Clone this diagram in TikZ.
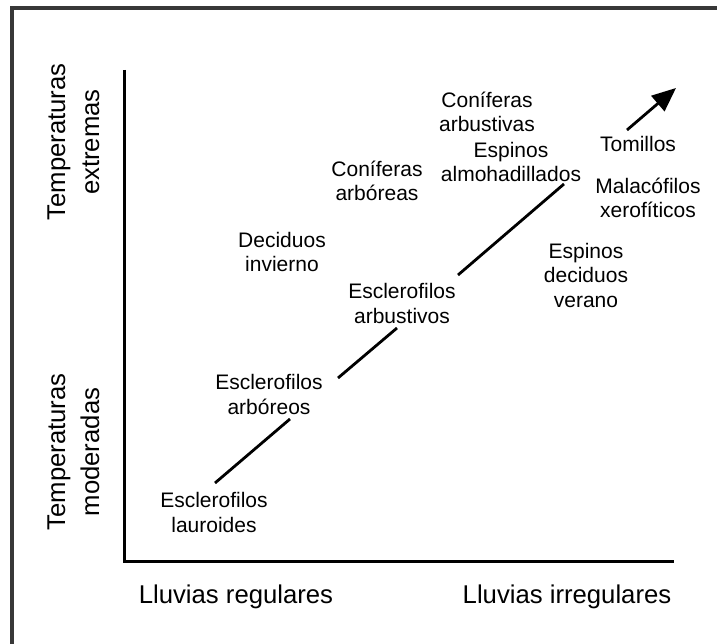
\documentclass[tikz,border=0pt]{standalone}
\usepackage{fontspec}
\setmainfont{Liberation Sans}
\usetikzlibrary{arrows.meta}
\begin{document}
\begin{tikzpicture}[x=1pt,y=-1pt,
  lbl/.style={font=\fontsize{21}{24.5}\selectfont, align=center, inner sep=0pt, anchor=base},
  axl/.style={font=\fontsize{25.7}{34}\selectfont, align=center, inner sep=0pt, anchor=base},
  ln/.style={line width=2.8pt},
  axis/.style={line width=3.5pt, line join=miter},
  frame/.style={line width=3.5pt, draw=black!78}
]
\useasboundingbox (0,0) rectangle (717,644);
\fill[white] (0,0) rectangle (717,644);
\draw[frame] (12,646) -- (12,8) -- (719,8);

% axes
\coordinate (ytop) at (124.5,70);
\coordinate (orig) at (124.5,561.5);
\coordinate (xend) at (674,561.5);
\draw[axis] (ytop) -- (orig) -- (xend);

% axis labels
\node[axl] (lr) at (236,603) {Lluvias regulares};
\node[axl] (li) at (567,603) {Lluvias irregulares};
\node[axl, rotate=90] (te) at (99,142) {Temperaturas\\extremas};
\node[axl, rotate=90] (tm) at (99,452) {Temperaturas\\moderadas};

% labels (anchor = baseline of last line)
\node[lbl] (lau)  at (214,532) {Esclerofilos\\lauroides};
\node[lbl] (sarb) at (269,414) {Esclerofilos\\arbóreos};
\node[lbl] (sarbu) at (402,323) {Esclerofilos\\arbustivos};
\node[lbl] (dec)  at (282,272) {Deciduos\\invierno};
\node[lbl] (cona) at (377,201) {Coníferas\\arbóreas};
\node[lbl] (conb) at (487,132) {Coníferas\\arbustivas};
\node[lbl] (esp)  at (511,182) {Espinos\\almohadillados};
\node[lbl] (tom)  at (638,152) {Tomillos};
\node[lbl] (mal)  at (648,218) {Malacófilos\\xerofíticos};
\node[lbl] (espd) at (586,307) {Espinos\\deciduos\\verano};

% diagonal trend line, broken by labels
\coordinate (d1a) at (215,483);
\coordinate (d1b) at (290,419);
\coordinate (d2a) at (338,378);
\coordinate (d2b) at (397,328);
\coordinate (d3a) at (458,275);
\coordinate (d3b) at (564,184);
\coordinate (d4a) at (627,130);
\coordinate (d4b) at (676,88);
\draw[ln] (d1a) -- (d1b);
\draw[ln] (d2a) -- (d2b);
\draw[ln] (d3a) -- (d3b);
\draw[ln, -{Triangle[length=24pt,width=20pt]}] (d4a) -- (d4b);
\end{tikzpicture}
\end{document}
